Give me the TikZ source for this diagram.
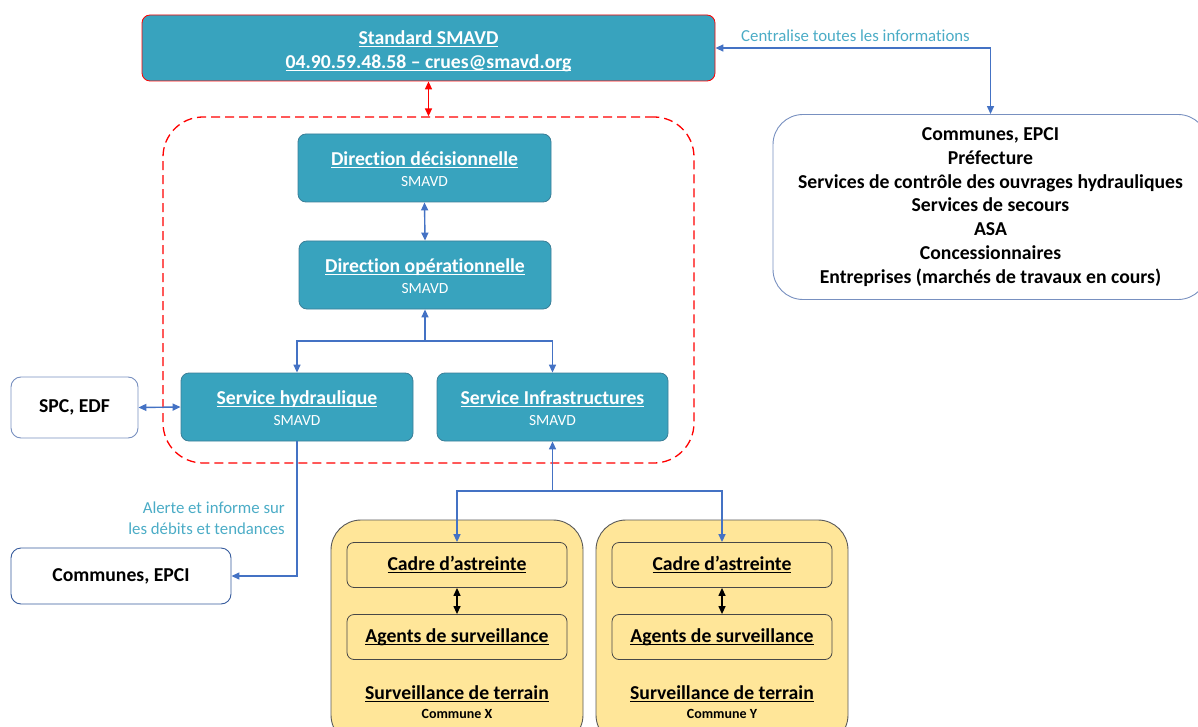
\documentclass[tikz,border=0pt]{standalone}
\usepackage{fontspec}
\setmainfont{Carlito}[Ligatures=NoCommon]
\usetikzlibrary{arrows.meta}

\definecolor{smavdteal}{HTML}{38A3BE}
\definecolor{tealedge}{HTML}{3B7E97}
\definecolor{linkblue}{HTML}{4472C4}
\definecolor{notecyan}{HTML}{4BACC6}
\definecolor{zoneyellow}{HTML}{FFE699}
\definecolor{zoneedge}{HTML}{595959}
\definecolor{partedge}{HTML}{7890C0}

\newcommand{\titlefont}{\fontsize{19.7}{23.5}\selectfont\bfseries}
\newcommand{\subfont}{\fontsize{15.5}{17}\selectfont\mdseries}
\newcommand{\sousligne}[1]{\setbox0\hbox{#1}\rlap{\rule[-2.4pt]{\wd0}{0.9pt}}\box0}

\begin{document}
\begin{tikzpicture}[x=1pt,y=-1pt,
    >={Triangle[length=8pt,width=7pt]},
    tealbox/.style={draw=tealedge, fill=smavdteal, rounded corners=8pt, line width=0.8pt,
      text=white, align=center, inner sep=0pt, font=\titlefont},
    partbox/.style={draw=partedge, fill=white, rounded corners=10pt, line width=0.9pt,
      align=center, inner sep=0pt, font=\titlefont},
    zonebox/.style={draw=zoneedge, fill=zoneyellow, rounded corners=30pt, line width=0.9pt,
      minimum width=252pt, minimum height=225pt},
    rolebox/.style={draw=zoneedge!80!black, fill=zoneyellow, rounded corners=7pt, line width=0.8pt,
      minimum width=220pt, minimum height=45pt, inner sep=0pt, font=\titlefont},
    link/.style={draw=linkblue, line width=1.4pt},
    note/.style={text=notecyan, font=\fontsize{16.8}{21}\selectfont, inner sep=0pt}]
  \useasboundingbox (0,0) rectangle (1198,727);
  \clip (0,0) rectangle (1198,727);

  % cellule de crise
  \node[draw=red, dashed, dash pattern=on 9pt off 5pt, line width=1.3pt, rounded corners=40pt,
    minimum width=531pt, minimum height=346pt] (cellule) at (428.5,290) {};

  \node[tealbox, draw=red, minimum width=573pt, minimum height=66pt] (std) at (428.5,48)
    {\rule{0pt}{20pt}\sousligne{Standard SMAVD}\\[0pt]\sousligne{04.90.59.48.58 – crues@smavd.org}};
  \node[tealbox, minimum width=253pt, minimum height=68pt] (dec) at (424.5,168)
    {\rule{0pt}{16pt}\sousligne{Direction décisionnelle}\\[-3pt]\subfont SMAVD};
  \node[tealbox, minimum width=252pt, minimum height=68pt] (op) at (425,275)
    {\rule{0pt}{16pt}\sousligne{Direction opérationnelle}\\[-3pt]\subfont SMAVD};
  \node[tealbox, minimum width=232pt, minimum height=68pt] (hyd) at (297,407)
    {\rule{0pt}{16pt}\sousligne{Service hydraulique}\\[-3pt]\subfont SMAVD};
  \node[tealbox, minimum width=231pt, minimum height=68pt] (infra) at (552.5,407)
    {\rule{0pt}{16pt}\sousligne{Service Infrastructures}\\[-3pt]\subfont SMAVD};

  % partenaires
  \node[partbox, minimum width=127pt, minimum height=61pt] (spc) at (74.5,407.5) {SPC, EDF};
  \node[partbox, draw=linkblue!80!black, minimum width=220pt, minimum height=56pt] (communes) at (121,576)
    {Communes, EPCI};
  \node[partbox, rounded corners=30pt, minimum width=435pt, minimum height=185pt,
    font=\fontsize{19.7}{23.8}\selectfont\bfseries] (partners) at (990.5,207)
    {Communes, EPCI\\Préfecture\\Services de contrôle des ouvrages hydrauliques\\Services de secours\\ASA\\Concessionnaires\\Entreprises (marchés de travaux en cours)};

  % surveillance de terrain
  \foreach \z/\cx/\nom in {X/457/Commune X, Y/722/Commune Y} {
    \node[zonebox] (zone\z) at (\cx,632.5) {};
    \node[rolebox] (cadre\z) at (\cx,565) {\sousligne{Cadre d’astreinte}};
    \node[rolebox] (agents\z) at (\cx,637) {\sousligne{Agents de surveillance}};
    \node[align=center, inner sep=0pt, font=\titlefont] (terrain\z) at (\cx,702)
      {\sousligne{Surveillance de terrain}\\[-4pt]{\fontsize{14}{15}\selectfont\nom}};
    \draw[line width=1.3pt, <->] (cadre\z.south) -- (agents\z.north);
  }

  % liaisons
  \draw[red, line width=1.4pt, <->] (std.south) -- (cellule.north);
  \draw[link, <->] (std.east) -| (partners.north);
  \node[note, anchor=south] (centralise) at (855.5,42) {Centralise toutes les informations};

  \draw[link, <->] (dec.south) -- (op.north);
  \coordinate (fork) at (425,341);
  \draw[link, <-] (op.south) -- (fork);
  \draw[link, ->] (fork) -| (hyd.north);
  \draw[link, ->] (fork) -| (infra.north);

  \draw[link, <->] (spc.east) -- (hyd.west);
  \draw[link, ->] (hyd.south) |- (communes.east);
  \node[note, align=right, anchor=east] (alerte) at (285,518)
    {Alerte et informe sur\\les débits et tendances};

  \coordinate (fork2) at (552.5,491);
  \draw[link, <-] (infra.south) -- (fork2);
  \draw[link, ->] (fork2) -| (cadreX.north);
  \draw[link, ->] (fork2) -| (cadreY.north);
\end{tikzpicture}
\end{document}
